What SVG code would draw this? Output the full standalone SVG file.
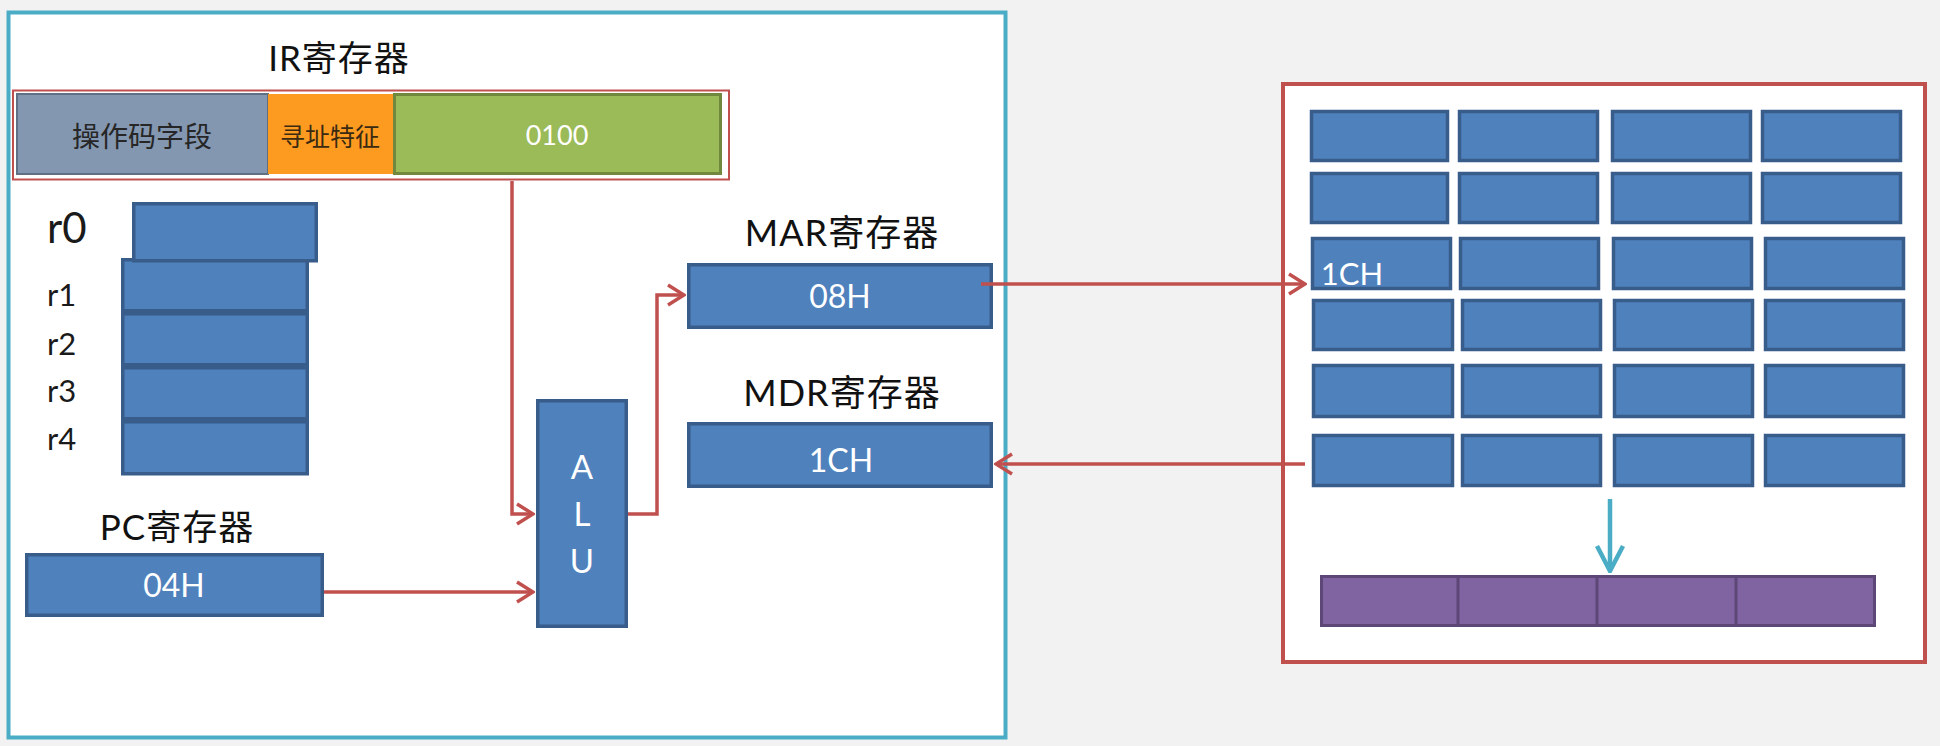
<svg xmlns="http://www.w3.org/2000/svg" width="1940" height="746" viewBox="0 0 1940 746">
<style>
.bg{fill:#f2f2f2}
.panel{fill:#ffffff;stroke:#4bacc6;stroke-width:4}
.mem{fill:#ffffff;stroke:#c0504d;stroke-width:4}
.blue{fill:#4f81bd;stroke:#385d8a;stroke-width:3.5}
.purple{fill:#8064a2;stroke:#5c4776;stroke-width:3}
.lbl{font-family:Lato,"Noto Sans CJK SC",sans-serif;fill:#111111;text-anchor:middle;letter-spacing:1px}
.reg{font-family:Lato,"Liberation Sans",sans-serif;fill:#1a1a1a}
.wt{font-family:Lato,"Liberation Sans",sans-serif;fill:#ffffff;text-anchor:middle}
.cjk{font-family:"Noto Sans CJK SC",sans-serif;text-anchor:middle}
.red{fill:none;stroke:#c0504d;stroke-width:3.5}
.teal{fill:none;stroke:#4bacc6;stroke-width:4.5}
</style>
<defs>
<marker id="arR" viewBox="-20 -13 22 26" refX="0" refY="0" markerWidth="22" markerHeight="26" orient="auto" markerUnits="userSpaceOnUse">
<path d="M-16,-10 L0,0 L-16,10" fill="none" stroke="#c0504d" stroke-width="3.5"/>
</marker>
<marker id="arT" viewBox="-30 -16 32 32" refX="0" refY="0" markerWidth="32" markerHeight="32" orient="auto" markerUnits="userSpaceOnUse">
<path d="M-25,-13 L0,0 L-25,13" fill="none" stroke="#4bacc6" stroke-width="4.5"/>
</marker>
</defs>
<rect class="bg" x="0" y="0" width="1940" height="746"/>
<rect class="panel" x="8.5" y="12.5" width="997" height="725"/>
<rect class="mem" x="1283" y="84" width="642" height="578"/>

<g id="ir-register">
<text class="lbl" x="339" y="71" font-size="35">IR寄存器</text>
<rect x="13" y="90.5" width="716" height="89" fill="none" stroke="#c0504d" stroke-width="2"/>
<rect x="17" y="94" width="251" height="80" fill="#8497b0" stroke="#5f6f84" stroke-width="2"/>
<rect x="268" y="94" width="125" height="80" fill="#fd9b21"/>
<rect x="394.5" y="94.5" width="326" height="79" fill="#9bbb59" stroke="#71893f" stroke-width="3"/>
<text class="cjk" x="142" y="147" font-size="28" fill="#262626">操作码字段</text>
<text class="cjk" x="330" y="146" font-size="25" fill="#3a2a12">寻址特征</text>
<text class="wt" x="557" y="145" font-size="27" fill="#f4f4e4">0100</text>
</g>

<g id="registers">
<text class="reg" x="47" y="243" font-size="42" fill="#000">r0</text>
<text class="reg" x="47" y="306" font-size="31">r1</text>
<text class="reg" x="47" y="355" font-size="31">r2</text>
<text class="reg" x="47" y="402" font-size="31">r3</text>
<text class="reg" x="47" y="450" font-size="31">r4</text>
<rect class="blue" x="122.75" y="259.75" width="184.5" height="51" stroke-width="4"/>
<rect class="blue" x="122.75" y="313.75" width="184.5" height="51" stroke-width="4"/>
<rect class="blue" x="122.75" y="367.75" width="184.5" height="51" stroke-width="4"/>
<rect class="blue" x="122.75" y="421.75" width="184.5" height="52" stroke-width="4"/>
<rect class="blue" x="133.75" y="203.75" width="182.5" height="57" fill="#5380b8"/>
</g>

<g id="pc-register">
<text class="lbl" x="177" y="540" font-size="35">PC寄存器</text>
<rect class="blue" x="26.75" y="554.75" width="295.5" height="60.5"/>
<text class="wt" x="174" y="597" font-size="32">04H</text>
</g>

<g id="alu">
<rect class="blue" x="537.75" y="400.75" width="88.5" height="225.5"/>
<text class="wt" x="582" y="479" font-size="33">A</text>
<text class="wt" x="582" y="526" font-size="33">L</text>
<text class="wt" x="582" y="573" font-size="33">U</text>
</g>

<g id="mar-register">
<text class="lbl" x="842" y="246" font-size="36">MAR寄存器</text>
<rect class="blue" x="688.75" y="264.75" width="302.5" height="62.5"/>
<text class="wt" x="840" y="308" font-size="32">08H</text>
</g>

<g id="mdr-register">
<text class="lbl" x="842" y="406" font-size="36">MDR寄存器</text>
<rect class="blue" x="688.75" y="423.75" width="302.5" height="62.5"/>
<text class="wt" x="841" y="472" font-size="32">1CH</text>
</g>

<g id="memory">
<rect class="blue" x="1311.5" y="111.5" width="136" height="49"/>
<rect class="blue" x="1459.5" y="111.5" width="138" height="49"/>
<rect class="blue" x="1612.5" y="111.5" width="138" height="49"/>
<rect class="blue" x="1762.5" y="111.5" width="138" height="49"/>
<rect class="blue" x="1311.5" y="173.5" width="136" height="49"/>
<rect class="blue" x="1459.5" y="173.5" width="138" height="49"/>
<rect class="blue" x="1612.5" y="173.5" width="138" height="49"/>
<rect class="blue" x="1762.5" y="173.5" width="138" height="49"/>
<rect class="blue" x="1312.5" y="238.5" width="138" height="50"/>
<rect class="blue" x="1460.5" y="238.5" width="138" height="50"/>
<rect class="blue" x="1613.5" y="238.5" width="138" height="50"/>
<rect class="blue" x="1765.5" y="238.5" width="138" height="50"/>
<rect class="blue" x="1313.5" y="300.5" width="139" height="49"/>
<rect class="blue" x="1462.5" y="300.5" width="138" height="49"/>
<rect class="blue" x="1614.5" y="300.5" width="138" height="49"/>
<rect class="blue" x="1765.5" y="300.5" width="138" height="49"/>
<rect class="blue" x="1313.5" y="365.5" width="139" height="51"/>
<rect class="blue" x="1462.5" y="365.5" width="138" height="51"/>
<rect class="blue" x="1614.5" y="365.5" width="138" height="51"/>
<rect class="blue" x="1765.5" y="365.5" width="138" height="51"/>
<rect class="blue" x="1313.5" y="435.5" width="139" height="50"/>
<rect class="blue" x="1462.5" y="435.5" width="138" height="50"/>
<rect class="blue" x="1614.5" y="435.5" width="138" height="50"/>
<rect class="blue" x="1765.5" y="435.5" width="138" height="50"/>
<text class="wt" x="1352" y="285" font-size="31" text-anchor="start">1CH</text>
</g>

<g id="buffer">
<rect class="purple" x="1321.5" y="576.5" width="553" height="49"/>
<line x1="1458" y1="576" x2="1458" y2="626" stroke="#5c4776" stroke-width="3"/>
<line x1="1597" y1="576" x2="1597" y2="626" stroke="#5c4776" stroke-width="3"/>
<line x1="1736" y1="576" x2="1736" y2="626" stroke="#5c4776" stroke-width="3"/>
</g>

<g id="connectors">
<path class="red" d="M512,181 V514 H533" marker-end="url(#arR)"/>
<path class="red" d="M628,514 H657 V295 H684" marker-end="url(#arR)"/>
<path class="red" d="M324,592 H533" marker-end="url(#arR)"/>
<path class="red" d="M981,284 H1305" marker-end="url(#arR)"/>
<path class="red" d="M1305,464 H996" marker-end="url(#arR)"/>
<path class="teal" d="M1610,499 V571" marker-end="url(#arT)"/>
</g>
</svg>
